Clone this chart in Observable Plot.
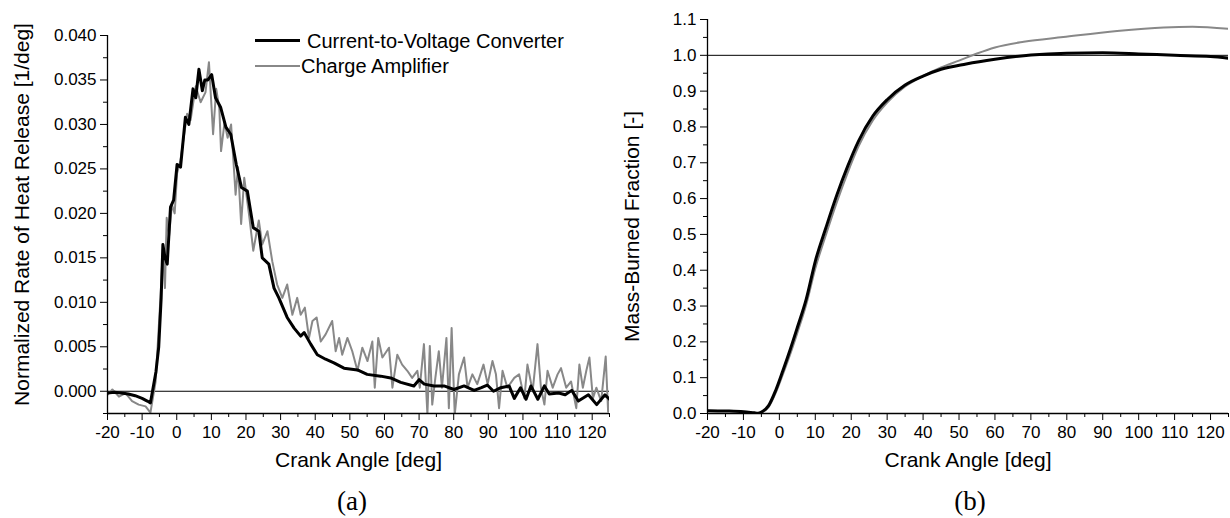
<!DOCTYPE html>
<html><head><meta charset="utf-8">
<script src="https://cdn.jsdelivr.net/npm/d3@7"></script>
<script src="https://cdn.jsdelivr.net/npm/@observablehq/plot@0.6"></script>
<style>
body{margin:0;background:#fff;font-family:"Liberation Sans",Arial,sans-serif;}
#wrap{position:relative;width:1230px;height:518px;overflow:hidden;background:#fff;}
.panel{position:absolute;top:0;z-index:1;}
.cap{position:absolute;font-family:"Liberation Serif","Times New Roman",serif;font-size:27px;line-height:1;transform:translate(-50%,-50%);z-index:2;}
.leg{position:absolute;font-size:20px;line-height:1;white-space:nowrap;z-index:2;}
.sw{position:absolute;z-index:2;}
</style></head>
<body><div id="wrap">
<div class="panel" id="pa" style="left:0"></div>
<div class="panel" id="pb" style="left:615px"></div>
<div class="sw" style="left:255px;top:39px;width:45px;height:3px;background:#000"></div>
<div class="leg" style="left:307px;top:31px">Current-to-Voltage Converter</div>
<div class="sw" style="left:255px;top:65px;width:45px;height:2px;background:#888"></div>
<div class="leg" style="left:301px;top:56px">Charge Amplifier</div>
<div class="cap" style="left:352px;top:501px">(a)</div>
<div class="cap" style="left:970px;top:501px">(b)</div>
</div>
<script>
// Panel (a): normalized rate of heat release
const angleCV = [-20,-18,-16,-14,-12,-10,-8.5,-7.6,-7.0,-6.0,-5.2,-4.5,-4.0,-3.4,-2.75,-1.8,-0.9,0.1,1.1,2.5,3.5,4.7,5.5,6.4,7.4,8.1,9.0,10.1,11.2,12.7,14.2,15.6,17.2,18.7,20.4,22.1,23.7,24.7,26.6,28.1,29.5,31.9,33.9,35.8,36.8,38.7,40.6,43,45.4,48.3,52.2,55,58.9,61.8,64.7,68.5,70,71.5,74.3,77.2,80.1,83,85.9,88,89.7,91.5,93.6,96,97.5,99.3,100.9,102.3,104.3,106.2,107.6,110.3,112.2,114.1,116,118.9,121.3,123.7,125];
const rohrCV = [-0.0002,-0.0001,-0.0002,-0.0003,-0.0005,-0.0008,-0.0011,-0.0013,0.0000,0.0022,0.0050,0.0105,0.0165,0.0150,0.0143,0.0207,0.0215,0.0255,0.0252,0.0308,0.0300,0.0340,0.0330,0.0362,0.0338,0.0350,0.0350,0.0356,0.0330,0.0319,0.0297,0.0289,0.0255,0.0229,0.0225,0.0184,0.0180,0.0150,0.0143,0.0116,0.0105,0.0083,0.0071,0.0062,0.0066,0.0053,0.0041,0.0036,0.0032,0.0026,0.0024,0.0019,0.0017,0.0015,0.0010,0.0006,0.0013,0.0008,0.0006,0.0006,0.0002,0.0006,0.0001,0.0004,0.0007,0.0000,0.0004,0.0006,-0.0008,0.0004,-0.0009,0.0006,-0.0009,0.0006,-0.0003,-0.0002,-0.0004,0.0001,-0.0011,-0.0004,-0.0015,-0.0004,-0.0009];
const angleCA = [-20,-18.6,-16.7,-14.8,-12.9,-11.0,-9.0,-7.6,-6.1,-4.7,-4.0,-3.4,-2.9,-2.2,-1.4,-0.6,0.1,1.0,2.0,3.0,4.0,5.5,6.9,8.3,9.3,10.5,11.4,12.3,12.8,13.8,14.7,15.7,17.0,17.7,18.6,19.5,21.0,22.1,23.7,24.7,26.2,27.6,29.0,30.5,31.9,33.4,34.8,35.8,37.0,38.2,39.2,40.4,41.6,43.0,44.9,45.9,46.9,47.8,49.3,50.7,52.2,53.6,55.1,56.5,57.2,58.2,59.4,61.3,62.3,63.7,65.1,66.6,68.0,69.5,70.2,71.4,72.4,73.1,73.8,74.7,75.7,76.6,77.9,78.6,79.4,80.3,81.5,83.0,84.0,85.4,86.8,88.6,89.8,91.2,92.2,93.1,94.1,95.5,97.5,98.9,100.4,101.3,102.8,104.2,105.2,106.2,107.1,108.6,110.0,111.0,112.5,113.9,115.4,116.3,117.3,118.3,119.2,120.2,121.2,122.6,123.9,124.6,125];
const rohrCA = [-0.0004,0.0002,-0.0006,-0.0002,-0.0011,-0.0015,-0.0017,-0.0024,0.0011,0.0105,0.0160,0.0116,0.0195,0.0175,0.0210,0.0200,0.0245,0.0258,0.0285,0.0312,0.0305,0.0343,0.0325,0.0336,0.0370,0.0289,0.0340,0.0318,0.0270,0.0302,0.0285,0.0300,0.0221,0.0252,0.0188,0.0240,0.0195,0.0158,0.0192,0.0165,0.0180,0.0146,0.0120,0.0105,0.0120,0.0086,0.0105,0.0086,0.0094,0.0060,0.0079,0.0083,0.0056,0.0064,0.0079,0.0045,0.0060,0.0041,0.0060,0.0045,0.0023,0.0049,0.0034,0.0056,0.0004,0.0060,0.0038,0.0049,0.0004,0.0041,0.0030,0.0023,0.0015,0.0023,0.0004,0.0053,-0.0026,0.0051,-0.0015,0.0015,0.0045,0.0004,0.0060,-0.0019,0.0071,-0.0026,0.0019,0.0038,0.0004,0.0019,0.0008,0.0030,0.0008,0.0034,0.0019,-0.0019,0.0023,0.0004,0.0015,0.0019,-0.0008,0.0030,0.0000,0.0053,0.0004,-0.0015,0.0023,0.0004,0.0019,0.0026,0.0004,0.0011,-0.0019,0.0030,0.0004,0.0023,0.0038,-0.0008,0.0004,-0.0011,0.0039,-0.0023,-0.0008];

// Panel (b): mass-burned fraction
const angleMbfCV = [-20,-15,-10,-7,-6,-5,-3,-1,1,3,5,7.5,10,13,16,19,22,26,30,35,40,45,52,60,70,80,90,100,110,120,125];
const mbfCV = [0.008,0.007,0.005,0.002,0.001,0.004,0.022,0.065,0.12,0.178,0.24,0.32,0.425,0.52,0.61,0.69,0.76,0.83,0.876,0.917,0.942,0.961,0.976,0.989,1.001,1.006,1.007,1.004,1.0,0.997,0.992];
const angleMbfCA = [-20,-15,-10,-7,-6,-5,-3,-1,1,3,5,7.5,10,13,16,19,22,26,30,35,40,45,50,55,60,68,79,94,107,115,125];
const mbfCA = [0.008,0.007,0.005,0.002,0.001,0.003,0.018,0.058,0.11,0.165,0.225,0.305,0.405,0.50,0.59,0.672,0.745,0.818,0.868,0.913,0.942,0.966,0.985,1.005,1.022,1.038,1.051,1.068,1.078,1.080,1.074];

// Tick values / labels
const xTicks = [-20,-10,0,10,20,30,40,50,60,70,80,90,100,110,120];
const xMinor = [-15,-5,5,15,25,35,45,55,65,75,85,95,105,115,125];
const yTicksA = [0,0.005,0.010,0.015,0.020,0.025,0.030,0.035,0.040];
const yMinorA = [-0.0025,0.0025,0.0075,0.0125,0.0175,0.0225,0.0275,0.0325,0.0375];
const yTicksB = [0,0.1,0.2,0.3,0.4,0.5,0.6,0.7,0.8,0.9,1.0,1.1];
const yMinorB = [0.05,0.15,0.25,0.35,0.45,0.55,0.65,0.75,0.85,0.95,1.05];

const zip = (xs, ys) => xs.map((x, i) => ({angle: x, v: ys[i]}));
const cvA = zip(angleCV, rohrCV), caA = zip(angleCA, rohrCA);
const cvB = zip(angleMbfCV, mbfCV), caB = zip(angleMbfCA, mbfCA);

const style = {background: "transparent", fontFamily: "'Liberation Sans', Arial, sans-serif", fontSize: "17px", color: "#000", overflow: "visible"};
const fx = d => String(d);

function axes(xDom0, yDom0, yTicks, yMinor, yFmt) {
  return [
    Plot.axisX({ticks: xMinor, tickSize: 4, tickFormat: () => "", label: null}),
    Plot.axisX({ticks: xTicks, tickSize: 7, tickPadding: 5, tickFormat: fx, label: null, fontSize: 17}),
    Plot.axisY({ticks: yMinor, tickSize: 4, tickFormat: () => "", label: null}),
    Plot.axisY({ticks: yTicks, tickSize: 7, tickPadding: 4, tickFormat: yFmt, label: null, fontSize: 17}),
    Plot.ruleX([xDom0], {stroke: "#000", strokeWidth: 1.3}),
    Plot.ruleY([yDom0], {stroke: "#000", strokeWidth: 1.3})
  ];
}

const plotA = Plot.plot({
  width: 615, height: 480, style,
  marginLeft: 107, marginRight: 6, marginTop: 35, marginBottom: 67,
  x: {domain: [-20, 125], label: null},
  y: {domain: [-0.0025, 0.040], label: null},
  marks: [
    Plot.ruleY([0], {stroke: "#000", strokeWidth: 1}),
    Plot.line(caA, {x: "angle", y: "v", stroke: "#888", strokeWidth: 2, clip: true}),
    Plot.line(cvA, {x: "angle", y: "v", stroke: "#000", strokeWidth: 3, clip: true}),
    ...axes(-20, -0.0025, yTicksA, yMinorA, d3.format(".3f")),
    Plot.text(["Crank Angle [deg]"], {text: d => d, frameAnchor: "bottom", dy: 53, fontSize: 21}),
    Plot.text(["Normalized Rate of Heat Release [1/deg]"], {text: d => d, frameAnchor: "left", textAnchor: "middle", rotate: -90, dx: -85, dy: -10, fontSize: 21})
  ]
});
document.getElementById("pa").append(plotA);

const plotB = Plot.plot({
  width: 615, height: 480, style,
  marginLeft: 92, marginRight: 2, marginTop: 19, marginBottom: 67,
  x: {domain: [-20, 125], label: null},
  y: {domain: [0, 1.1], label: null},
  marks: [
    Plot.ruleY([1.0], {stroke: "#000", strokeWidth: 1}),
    Plot.line(caB, {x: "angle", y: "v", stroke: "#888", strokeWidth: 2, curve: "monotone-x", clip: true}),
    Plot.line(cvB, {x: "angle", y: "v", stroke: "#000", strokeWidth: 3, curve: "monotone-x", clip: true}),
    ...axes(-20, 0, yTicksB, yMinorB, d3.format(".1f")),
    Plot.text(["Crank Angle [deg]"], {text: d => d, frameAnchor: "bottom", dy: 53, fontSize: 21}),
    Plot.text(["Mass-Burned Fraction [-]"], {text: d => d, frameAnchor: "left", textAnchor: "middle", rotate: -90, dx: -75, dy: 10, fontSize: 21})
  ]
});
document.getElementById("pb").append(plotB);
</script>
</body></html>
